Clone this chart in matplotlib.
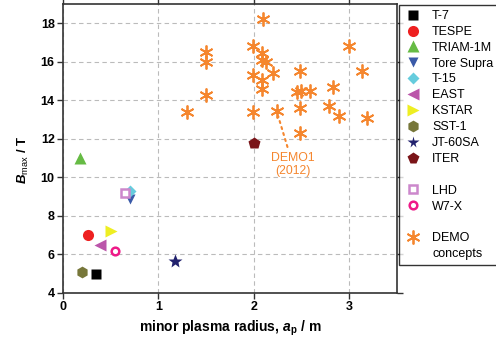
import matplotlib
matplotlib.use('Agg')
import matplotlib.pyplot as plt
from matplotlib.lines import Line2D

plt.rcParams['font.family'] = ['Liberation Sans', 'DejaVu Sans']
plt.rcParams['mathtext.fontset'] = 'custom'
plt.rcParams['mathtext.rm'] = 'Liberation Sans'
plt.rcParams['mathtext.it'] = 'Liberation Sans:italic:bold'
plt.rcParams['mathtext.bf'] = 'Liberation Sans:bold'

# existing devices: name, minor radius a_p (m), B_max (T)
devices = ['T-7', 'TESPE', 'TRIAM-1M', 'Tore Supra', 'T-15', 'EAST',
           'KSTAR', 'SST-1', 'JT-60SA', 'ITER']
dev_a = [0.35, 0.26, 0.18, 0.70, 0.70, 0.39, 0.50, 0.20, 1.17, 2.00]
dev_b = [5.0, 7.0, 11.0, 8.9, 9.3, 6.5, 7.2, 5.1, 5.65, 11.8]

# stellarators (open symbols)
stell = ['LHD', 'W7-X']
stell_a = [0.65, 0.55]
stell_b = [9.2, 6.2]

# DEMO design concepts
demo_a = [1.30, 1.50, 1.50, 1.50, 2.10, 1.99, 2.09, 2.09, 2.13, 2.20,
          1.99, 2.09, 2.09, 1.99, 2.24, 2.49, 3.14, 3.00, 2.83, 2.45,
          2.50, 2.59, 2.49, 2.79, 2.89, 3.19, 2.49]
demo_b = [13.4, 16.5, 16.0, 14.3, 18.2, 16.8, 16.45, 16.1, 16.0, 15.4,
          15.3, 15.05, 14.6, 13.4, 13.45, 15.5, 15.5, 16.8, 14.7, 14.45,
          14.5, 14.5, 13.6, 13.7, 13.2, 13.1, 12.3]
demo1_a, demo1_b = 2.24, 13.45

dev_style = [('s', 'black'), ('o', '#ee2020'), ('^', '#66bb44'),
             ('v', '#3a5aa8'), ('D', '#66ccdd'), ('<', '#bb55aa'),
             ('>', '#eeee22'), ('h', '#77773a'), ('*', '#22226e'),
             ('p', '#7a1418')]
dev_ms = [7, 8, 9, 7.5, 6.5, 9, 9, 8.5, 10, 9]
stell_style = [('s', '#cc88cc'), ('o', '#ee1a88')]
orange = '#f5862e'

fig = plt.figure(figsize=(4.96, 3.41), dpi=100)
ax = fig.add_axes([0.127, 0.141, 0.673, 0.847])

handles = []
for name, a, b, (m, c), ms in zip(devices, dev_a, dev_b, dev_style, dev_ms):
    ax.plot(a, b, ls='none', marker=m, color=c, ms=ms, mec='none', zorder=3)
    handles.append(Line2D([], [], ls='none', marker=m, color=c,
                          ms=min(ms, 8.5), mec='none', label=name))

handles.append(Line2D([], [], ls='none', label=' '))
for name, a, b, (m, c) in zip(stell, stell_a, stell_b, stell_style):
    ax.plot(a, b, ls='none', marker=m, mfc='white', mec=c, mew=1.8, ms=5.5,
            zorder=4)
    handles.append(Line2D([], [], ls='none', marker=m, mfc='white', mec=c,
                          mew=1.8, ms=5.5, label=name))
handles.append(Line2D([], [], ls='none', label=' '))

ast = (6, 2, 0)
ax.plot(demo_a, demo_b, ls='none', marker=ast, color=orange, ms=10, mew=1.3,
        zorder=3)
handles.append(Line2D([], [], ls='none', marker=ast, color=orange, ms=10,
                      mew=1.3, label='DEMO'))
handles.append(Line2D([], [], ls='none', label='concepts'))

ax.annotate('DEMO1\n(2012)', xy=(demo1_a, demo1_b), xytext=(2.41, 10.65),
            ha='center', va='center', color=orange, fontsize=8.8,
            linespacing=1.1,
            arrowprops=dict(arrowstyle='-', ls=(0, (1, 2)), color=orange,
                            lw=1.5, shrinkA=2, shrinkB=4))

ax.set_xlim(0, 3.5)
ax.set_ylim(4, 19)
ax.set_xticks([0, 1, 2, 3])
ax.set_yticks(range(4, 19, 2))
ax.grid(True, color='#bbbbbb', ls=(0, (4, 3)), lw=0.8)
ax.set_axisbelow(True)
for s in ax.spines.values():
    s.set_color('#333333')
    s.set_linewidth(1.2)
ax.tick_params(direction='out', length=4, width=1, top=True, right=True,
               labelsize=9, color='#333333', pad=2)
for lab in ax.get_xticklabels() + ax.get_yticklabels():
    lab.set_fontweight('bold')

ax.set_xlabel(r'minor plasma radius, $a_{\mathbf{p}}$ / m', fontsize=10,
              fontweight='bold', labelpad=4)
ax.set_ylabel(r'$B_{\mathrm{max}}$ / T', fontsize=9.5, fontweight='bold')
ax.yaxis.set_label_coords(-0.095, 0.46)

leg = fig.legend(handles=handles, loc='upper left',
                 bbox_to_anchor=(399 / 496, 1 - 5 / 341), fontsize=9,
                 numpoints=1, handlelength=1.45, handletextpad=0.8,
                 borderpad=0.4, labelspacing=0.31, fancybox=False,
                 frameon=True, borderaxespad=0)
leg.get_frame().set_edgecolor('black')
leg.get_frame().set_linewidth(1.0)

fig.savefig('out.png', dpi=100)
